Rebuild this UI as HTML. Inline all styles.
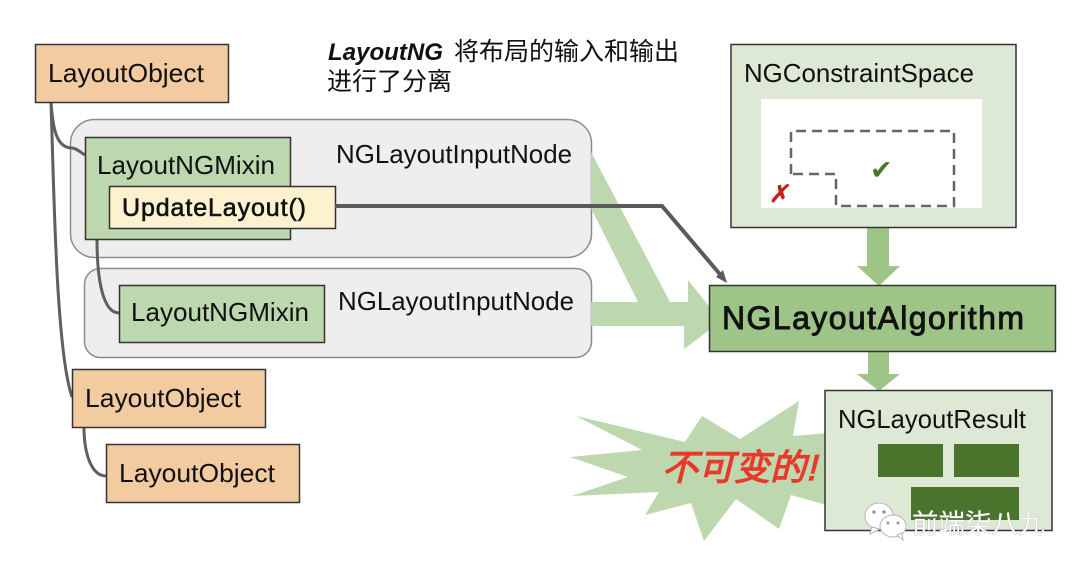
<!DOCTYPE html>
<html><head><meta charset="utf-8"><style>
html,body{margin:0;padding:0;background:#fff;width:1080px;height:570px;overflow:hidden}
svg{display:block;filter:blur(.35px)}
text{font-family:"Liberation Sans","Noto Sans CJK SC",sans-serif;fill:#111}
</style></head><body>
<svg width="1080" height="570" viewBox="0 0 1080 570" xmlns="http://www.w3.org/2000/svg">
<!-- groups -->
<rect x="70.5" y="119.5" width="521" height="138" rx="24" fill="#eeeeee" stroke="#8c8c8c" stroke-width="1.5"/>
<rect x="84.5" y="268.5" width="507" height="89" rx="16" fill="#eeeeee" stroke="#8c8c8c" stroke-width="1.5"/>
<!-- big green arrows -->
<polygon points="591,152 670,302 688,302 688,280 712,310 712,328 684,349 684,326 591,326 591,302 638,302 591,208" fill="#bdd7ae"/>
<polygon points="867,227 889,227 889,266 900,266 879,286 857,266 867,266" fill="#9fc487"/>
<polygon points="868,351 889,351 889,374 900,374 879,391 857,374 868,374" fill="#9fc487"/>
<!-- burst -->
<polygon points="576,416 685,442 702,416 740,439 799,401 793,436 830,433 830,506 791,495 779,529 736,499 704,541 691,503 645,515 659,492 572,496 628,477 570,457 642,450" fill="#bdd7ae"/>
<!-- connectors -->
<g fill="none" stroke="#5f5f5f" stroke-width="3">
<path d="M51,103C53,125 55,148 72,148C76,148 80,152 85,155"/>
<path d="M51,103C54,190 56,350 72,397"/>
<path d="M97,239C97,280 103,313 119,313"/>
<path d="M84,427C84,455 92,476 106,476"/>
</g>
<!-- boxes -->
<g stroke="#333" stroke-width="1.5">
<rect x="35.5" y="44.5" width="193" height="58" fill="#f2cba0"/>
<rect x="85.5" y="137.5" width="205" height="102" fill="#bdd7ae"/>
<rect x="119.5" y="285.5" width="205" height="57" fill="#bdd7ae"/>
<rect x="72.5" y="369.5" width="193" height="58" fill="#f2cba0"/>
<rect x="106.5" y="444.5" width="193" height="58" fill="#f2cba0"/>
<rect x="109.5" y="186.5" width="226" height="42" fill="#fdf2d0"/>
<rect x="731" y="44.5" width="285" height="183" fill="#dde9d5"/>
<rect x="709.5" y="285.5" width="346" height="66" fill="#9fc487"/>
<rect x="825" y="390.5" width="227" height="140" fill="#dde9d5"/>
</g>
<rect x="761" y="99" width="221" height="109" fill="#fff"/>
<path d="M791,174V131H954V206H836V174H791" fill="none" stroke="#666" stroke-width="2.5" stroke-dasharray="10 6"/>
<text x="870" y="179" style="font-family:'DejaVu Sans',sans-serif;fill:#4a7729;font-size:27px">✔</text>
<text transform="translate(769,202) skewX(-10)" style="font-family:'DejaVu Sans',sans-serif;fill:#c0221c;stroke:#c0221c;stroke-width:.8;font-size:24px">✗</text>
<rect x="878" y="444" width="65" height="33" fill="#4a742c"/>
<rect x="954" y="444" width="65" height="33" fill="#4a742c"/>
<rect x="911" y="487" width="108" height="33" fill="#4a742c"/>
<!-- dark arrow -->
<path d="M335,206H662L724,279" fill="none" stroke="#5a5a5a" stroke-width="4"/>
<polygon points="716,277 727,283 723,270" fill="#5a5a5a"/>
<!-- labels -->
<g font-size="26">
<text x="48" y="82" textLength="156" lengthAdjust="spacingAndGlyphs">LayoutObject</text>
<text x="97" y="174" textLength="178" lengthAdjust="spacingAndGlyphs">LayoutNGMixin</text>
<text x="131" y="321" textLength="178" lengthAdjust="spacingAndGlyphs">LayoutNGMixin</text>
<text x="85" y="407" textLength="156" lengthAdjust="spacingAndGlyphs">LayoutObject</text>
<text x="119" y="482" textLength="156" lengthAdjust="spacingAndGlyphs">LayoutObject</text>
<text x="336" y="163" textLength="236" lengthAdjust="spacingAndGlyphs">NGLayoutInputNode</text>
<text x="338" y="310" textLength="236" lengthAdjust="spacingAndGlyphs">NGLayoutInputNode</text>
<text x="744" y="82" textLength="230" lengthAdjust="spacingAndGlyphs">NGConstraintSpace</text>
<text x="838" y="428" textLength="188" lengthAdjust="spacingAndGlyphs">NGLayoutResult</text>
<text x="122" y="216" font-size="25" textLength="184" lengthAdjust="spacing" style="stroke:#111;stroke-width:.6">UpdateLayout()</text>
</g>
<text x="722" y="329" font-size="32" textLength="302" lengthAdjust="spacing" style="stroke:#111;stroke-width:.9">NGLayoutAlgorithm</text>
<text x="328" y="60" font-size="24" font-weight="bold" font-style="italic" textLength="115" lengthAdjust="spacingAndGlyphs">LayoutNG</text>
<text x="454" y="60" font-size="25">将布局的输入和输出</text>
<text x="327" y="90" font-size="25">进行了分离</text>
<text transform="translate(662,480) skewX(-14)" font-size="36" style="fill:#e8392a;stroke:#e8392a;stroke-width:1.2">不可变的!</text>
<!-- watermark -->
<g stroke="#b5b5b5" stroke-width="1" fill="#fff">
<ellipse cx="879" cy="516" rx="14" ry="13"/>
<polygon points="872,527 870,534 880,529"/>
<ellipse cx="893" cy="526" rx="13" ry="11"/>
<polygon points="897,535 903,540 902,533"/>
</g>
<g fill="#999"><circle cx="874" cy="512" r="1.8"/><circle cx="884" cy="512" r="1.8"/><circle cx="888" cy="523" r="1.5"/><circle cx="898" cy="523" r="1.5"/></g>
<text x="912" y="533" font-size="26.5" style="fill:#fff;stroke:#9a9a9a;stroke-width:.5;paint-order:stroke">前端柒八九</text>
</svg>
</body></html>
